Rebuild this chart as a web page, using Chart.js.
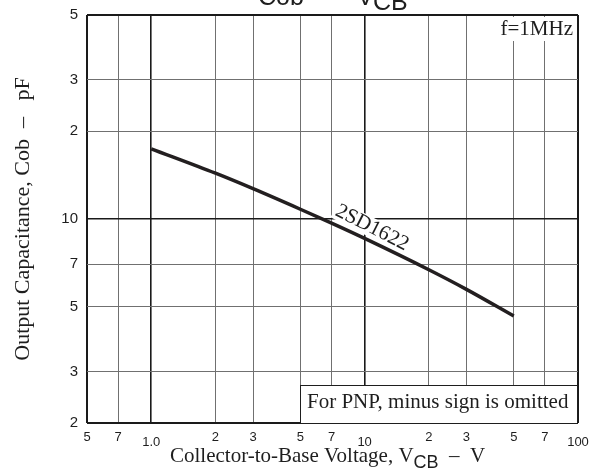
<!DOCTYPE html>
<html>
<head>
<meta charset="utf-8">
<script src="https://cdn.jsdelivr.net/npm/chart.js@4.4.1/dist/chart.umd.min.js"></script>
<style>
  html, body { margin: 0; padding: 0; background: #fff; }
  #wrap { width: 600px; height: 476px; position: relative; }
</style>
</head>
<body>
<div id="wrap"><canvas id="cobChart"></canvas></div>
<script>
/* Cob - VCB, 2SD1622 (f=1MHz) */
var vcb = [1, 2, 3, 5, 7, 10, 20, 30, 50];
var cob = [17.4, 14.35, 12.7, 10.8, 9.68, 8.58, 6.7, 5.74, 4.65];

var xTicks = [0.5, 0.7, 1, 2, 3, 5, 7, 10, 20, 30, 50, 70, 100];
var xLabels = ['5', '7', '1.0', '2', '3', '5', '7', '10', '2', '3', '5', '7', '100'];
var yTicks = [2, 3, 5, 7, 10, 20, 30, 50];
var yLabels = ['2', '3', '5', '7', '10', '2', '3', '5'];

var SERIF = '"Liberation Serif", "Times New Roman", serif';
var SANS = '"Liberation Sans", Arial, sans-serif';
var INK = '#1e1e1e';

function gridColor(v, min, max, majors) {
    if (v === min || v === max || majors.indexOf(v) >= 0) return '#1a1a1a';
    return '#707070';
}
function gridWidth(v, min, max, majors) {
    if (v === min || v === max) return 2;
    if (majors.indexOf(v) >= 0) return 1.6;
    return 1;
}

var annotations = {
    id: 'annotations',
    beforeDatasetsDraw: function (chart) {
        var ctx = chart.ctx, a = chart.chartArea;
        var x = chart.scales.x, y = chart.scales.y;
        ctx.save();

        // f=1MHz
        ctx.font = '21px ' + SERIF;
        ctx.fillStyle = '#fff';
        ctx.fillRect(a.right - 84, a.top + 2, 82, 24);
        ctx.fillStyle = INK;
        ctx.textAlign = 'right';
        ctx.textBaseline = 'alphabetic';
        ctx.fillText('f=1MHz', a.right - 5, 35);

        // note box
        var bx = Math.round(x.getPixelForValue(5));
        ctx.fillStyle = '#fff';
        ctx.fillRect(bx, 385, a.right - bx, a.bottom - 385);
        ctx.strokeStyle = INK;
        ctx.lineWidth = 1;
        ctx.strokeRect(bx + 0.5, 385.5, a.right - bx - 1, a.bottom - 385);
        ctx.fillStyle = INK;
        ctx.textAlign = 'left';
        ctx.fillText('For PNP, minus sign is omitted', bx + 7, 408);

        // part label along the curve
        ctx.translate(x.getPixelForValue(7.2), y.getPixelForValue(10.35));
        ctx.rotate(27 * Math.PI / 180);
        var w = ctx.measureText('2SD1622').width;
        ctx.fillStyle = '#fff';
        ctx.fillRect(-2, -15, w + 4, 19);
        ctx.fillStyle = INK;
        ctx.fillText('2SD1622', 0, 0);
        ctx.restore();
    },
    afterDraw: function (chart) {
        var ctx = chart.ctx;
        ctx.save();
        ctx.fillStyle = INK;
        ctx.textBaseline = 'alphabetic';
        ctx.textAlign = 'left';

        // top title (cut off at the top edge)
        ctx.font = '25px ' + SANS;
        ctx.fillText('Cob', 258, 5);
        ctx.fillText('\u2013', 322, 5);
        ctx.fillText('V', 357, 5);
        ctx.fillText('CB', 373, 10);

        // x axis title
        var t1 = 'Collector-to-Base Voltage, V';
        ctx.font = '21px ' + SERIF;
        var px = 170;
        ctx.fillText(t1, px, 462);
        px += ctx.measureText(t1).width;
        ctx.font = '18px ' + SANS;
        ctx.fillText('CB', px, 468);
        px += ctx.measureText('CB').width;
        ctx.font = '21px ' + SERIF;
        ctx.fillText('  \u2013  V', px, 462);

        // y axis title
        ctx.translate(29, 219);
        ctx.rotate(-Math.PI / 2);
        ctx.textAlign = 'center';
        ctx.font = '22px ' + SERIF;
        ctx.fillText('Output Capacitance, Cob  \u2013   pF', 0, 0);
        ctx.restore();
    }
};

new Chart(document.getElementById('cobChart').getContext('2d'), {
    type: 'line',
    data: {
        datasets: [{
            label: '2SD1622',
            data: vcb.map(function (v, i) { return { x: v, y: cob[i] }; }),
            borderColor: '#231f20',
            borderWidth: 3.5,
            pointRadius: 0,
            fill: false,
            cubicInterpolationMode: 'monotone'
        }]
    },
    options: {
        responsive: true,
        maintainAspectRatio: false,
        animation: false,
        layout: { padding: { top: 15, right: 22, left: 0, bottom: 0 } },
        plugins: {
            legend: { display: false },
            tooltip: { enabled: false },
            title: { display: false }
        },
        scales: {
            x: {
                type: 'logarithmic',
                min: 0.5,
                max: 100,
                afterBuildTicks: function (s) {
                    s.ticks = xTicks.map(function (v) { return { value: v }; });
                },
                afterFit: function (s) {
                    s.height = 53;
                    s.paddingLeft = 0;
                    s.paddingRight = 0;
                },
                border: { display: false },
                grid: {
                    drawTicks: false,
                    color: function (c) { return gridColor(c.tick.value, 0.5, 100, [1, 10]); },
                    lineWidth: function (c) { return gridWidth(c.tick.value, 0.5, 100, [1, 10]); }
                },
                ticks: {
                    autoSkip: false,
                    maxRotation: 0,
                    padding: 7,
                    color: INK,
                    font: function (c) {
                        var v = c.tick ? c.tick.value : 0;
                        var low = (v === 1 || v === 10 || v === 100);
                        return { family: SANS, size: 13, lineHeight: low ? 0.66 : 1.2 };
                    },
                    callback: function (v) {
                        var i = xTicks.indexOf(v);
                        if (i < 0) return '';
                        if (v === 1 || v === 10 || v === 100) return ['', xLabels[i]];
                        return xLabels[i];
                    }
                }
            },
            y: {
                type: 'logarithmic',
                min: 2,
                max: 50,
                afterBuildTicks: function (s) {
                    s.ticks = yTicks.map(function (v) { return { value: v }; });
                },
                afterFit: function (s) {
                    s.width = 87;
                    s.paddingTop = 0;
                    s.paddingBottom = 0;
                },
                border: { display: false },
                grid: {
                    drawTicks: false,
                    color: function (c) { return gridColor(c.tick.value, 2, 50, [10]); },
                    lineWidth: function (c) { return gridWidth(c.tick.value, 2, 50, [10]); }
                },
                ticks: {
                    autoSkip: false,
                    padding: 9,
                    color: INK,
                    font: { family: SANS, size: 15 },
                    callback: function (v) {
                        var i = yTicks.indexOf(v);
                        return i < 0 ? '' : yLabels[i];
                    }
                }
            }
        }
    },
    plugins: [annotations]
});
</script>
</body>
</html>
